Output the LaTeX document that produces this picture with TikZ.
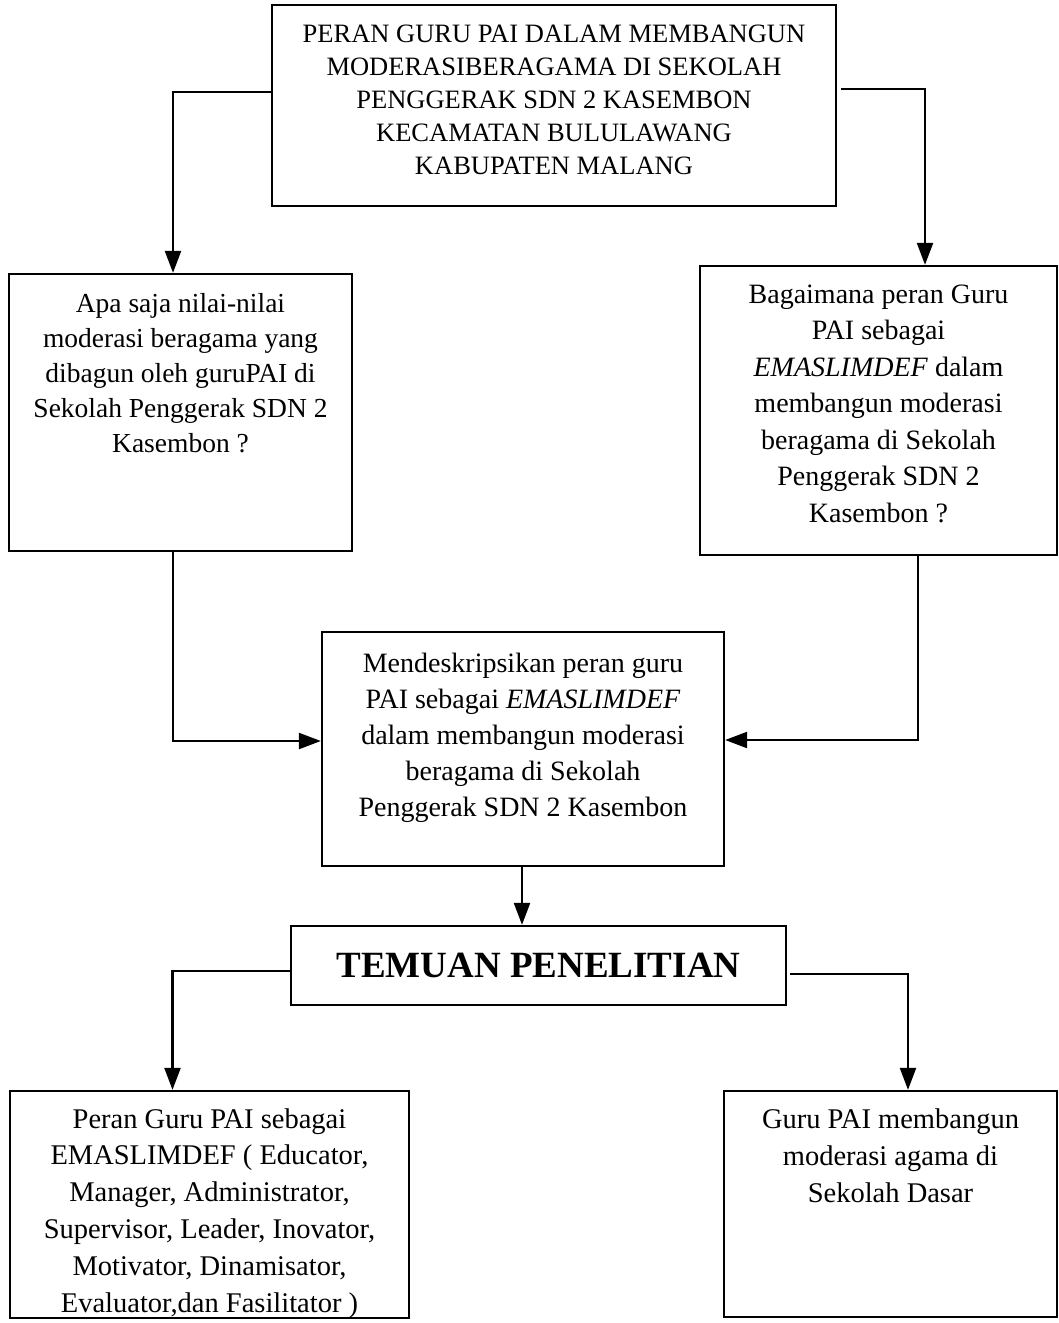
\documentclass[tikz,border=0pt]{standalone}
\usepackage{fontspec}
\setmainfont{Liberation Serif}
\usetikzlibrary{arrows.meta}
\tikzset{
  box/.style={draw, line width=2.3pt, inner sep=0pt, anchor=center},
  arr/.style={line width=2.3pt, -{Triangle[length=22pt,width=16pt]}},
}
\newcommand{\bt}[6]{\parbox[c][#1pt][t]{#2pt}{\centering\fontsize{#3pt}{#4pt}\selectfont\rule{0pt}{#5pt}#6}}
\begin{document}
\begin{tikzpicture}[x=1pt,y=-1pt]
\fill[white] (0,0) rectangle (1059,1323);
\useasboundingbox (0,0) rectangle (1059,1323);

\node[box] (top) at (554,105.5) {\bt{201}{564}{26.5}{33}{37}{PERAN GURU PAI DALAM MEMBANGUN\\ MODERASIBERAGAMA DI SEKOLAH\\ PENGGERAK SDN 2 KASEMBON\\ KECAMATAN BULULAWANG\\ KABUPATEN MALANG}};

\node[box] (L) at (180.5,412.5) {\bt{277}{343}{27.5}{35}{38}{Apa saja nilai-nilai\\ moderasi beragama yang\\ dibagun oleh guruPAI di\\ Sekolah Penggerak SDN 2\\ Kasembon ?}};

\node[box] (R) at (878.5,410.5) {\bt{289}{357}{28}{36.5}{37}{Bagaimana peran Guru\\ PAI sebagai\\ \textit{EMASLIMDEF} dalam\\ membangun moderasi\\ beragama di Sekolah\\ Penggerak SDN 2\\ Kasembon ?}};

\node[box] (M) at (523,749) {\bt{234}{402}{28}{36}{40}{Mendeskripsikan peran guru\\ PAI sebagai \textit{EMASLIMDEF}\\ dalam membangun moderasi\\ beragama di Sekolah\\ Penggerak SDN 2 Kasembon}};

\node[box, minimum width=495pt, minimum height=79pt, font=\fontsize{37pt}{44pt}\selectfont\bfseries] (T) at (538.5,965.5) {TEMUAN PENELITIAN};

\node[box] (BL) at (209.5,1204.5) {\bt{227}{399}{28.5}{36.8}{37}{Peran Guru PAI sebagai\\ EMASLIMDEF ( Educator,\\ Manager, Administrator,\\ Supervisor, Leader, Inovator,\\ Motivator, Dinamisator,\\ Evaluator,dan Fasilitator )}};

\node[box] (BR) at (890.5,1204) {\bt{226}{333}{28.5}{37}{37}{Guru PAI membangun\\ moderasi agama di\\ Sekolah Dasar}};

\draw[arr] ([yshift=13.5pt]top.west) -| ([xshift=-7.5pt]L.north);
\draw[arr] ([xshift=4pt,yshift=16.5pt]top.east) -| ([xshift=46.5pt]R.north);
\draw[arr] ([xshift=-7.5pt]L.south) |- ([yshift=8pt]M.west);
\draw[arr] ([xshift=39.5pt]R.south) |- ([yshift=9pt]M.east);
\draw[arr] ([xshift=-1pt]M.south) -- ([xshift=-1pt]M.south |- T.north);
\draw[arr] ([yshift=-5.5pt]T.west) -| ([xshift=-37pt]BL.north);
\draw[arr] ([xshift=3pt,yshift=-8.5pt]T.east) -| ([xshift=17.5pt]BR.north);
\end{tikzpicture}
\end{document}
